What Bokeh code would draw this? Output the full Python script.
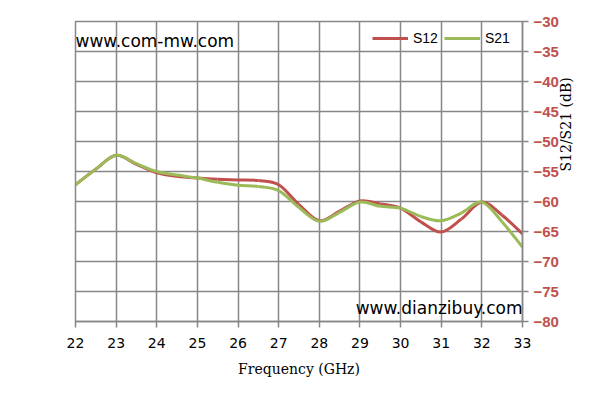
import math
from bokeh.plotting import figure
from bokeh.models import (LinearAxis, Range1d, FixedTicker, Label, Legend, LegendItem,
                          ColumnDataSource)
from bokeh.embed import file_html
from bokeh.resources import INLINE

freq = [22, 22.5, 23, 23.5, 24, 24.5, 25, 25.5, 26, 26.5, 27, 27.5, 28, 28.5, 29, 29.5,
        30, 30.5, 31, 31.5, 32, 32.5, 33]
s12 = [-57.2, -54.6, -52.3, -53.8, -55.2, -55.8, -56.1, -56.3, -56.4, -56.5, -57.2, -60.5,
       -63.2, -61.6, -59.9, -60.4, -61.1, -63.4, -65.1, -62.9, -60.1, -62.3, -65.4]
s21 = [-57.2, -54.6, -52.3, -53.7, -55.0, -55.6, -56.1, -56.8, -57.3, -57.5, -58.2, -61.0,
       -63.3, -61.8, -60.1, -60.8, -61.1, -62.5, -63.2, -61.9, -60.1, -63.4, -67.6]
x_ticks = list(range(22, 34))
y_ticks = list(range(-80, -29, 5))
x_label = "Frequency (GHz)"
y_label = "S12/S21 (dB)"
watermark_top = "www.com-mw.com"
watermark_bottom = "www.dianzibuy.com"

RED = "#C0504D"
GREEN = "#9BBB59"
GRID = "#878787"


def smooth_segments(xs, ys):
    """Cubic Bezier segments through the data points (Catmull-Rom style, like a
    spreadsheet 'smoothed line')."""
    n = len(xs)
    d = dict(x0=[], y0=[], x1=[], y1=[], cx0=[], cy0=[], cx1=[], cy1=[])
    for i in range(n - 1):
        p0 = (xs[max(i - 1, 0)], ys[max(i - 1, 0)])
        p1 = (xs[i], ys[i])
        p2 = (xs[i + 1], ys[i + 1])
        p3 = (xs[min(i + 2, n - 1)], ys[min(i + 2, n - 1)])
        d["x0"].append(p1[0]); d["y0"].append(p1[1])
        d["x1"].append(p2[0]); d["y1"].append(p2[1])
        d["cx0"].append(p1[0] + (p2[0] - p0[0]) / 6.0)
        d["cy0"].append(p1[1] + (p2[1] - p0[1]) / 6.0)
        d["cx1"].append(p2[0] - (p3[0] - p1[0]) / 6.0)
        d["cy1"].append(p2[1] - (p3[1] - p1[1]) / 6.0)
    return ColumnDataSource(d)


p = figure(width=579, height=386, output_backend="svg", toolbar_location=None,
           x_range=Range1d(22, 33), y_range=Range1d(-80, -30),
           frame_width=447, frame_height=300,
           min_border_left=75, min_border_top=21, min_border_right=20, min_border_bottom=40,
           y_axis_location=None)
p.xaxis.visible = False

p.outline_line_color = GRID
p.outline_line_width = 1.5
p.xgrid.ticker = FixedTicker(ticks=x_ticks)
p.ygrid.ticker = FixedTicker(ticks=y_ticks)
for g in (p.xgrid, p.ygrid):
    g.grid_line_color = GRID
    g.grid_line_width = 1.5
    g.grid_line_alpha = 1

xa = LinearAxis(ticker=FixedTicker(ticks=x_ticks), axis_label=x_label)
xa.axis_line_color = GRID
xa.axis_line_width = 1.5
xa.major_tick_line_color = GRID
xa.major_tick_line_width = 1.5
xa.major_tick_out = 6
xa.major_tick_in = 0
xa.minor_tick_line_color = None
xa.major_label_text_font = "DejaVu Sans"
xa.major_label_text_font_size = "14px"
xa.major_label_text_color = "#000000"
xa.major_label_standoff = 10
xa.axis_label_text_font = "DejaVu Serif"
xa.axis_label_text_font_style = "normal"
xa.axis_label_text_font_size = "14px"
xa.axis_label_text_color = "#000000"
xa.axis_label_standoff = 10
p.add_layout(xa, "below")

ya = LinearAxis(ticker=FixedTicker(ticks=y_ticks))
ya.axis_line_color = GRID
ya.axis_line_width = 1.5
ya.major_tick_line_color = GRID
ya.major_tick_line_width = 1.5
ya.major_tick_out = 6
ya.major_tick_in = 0
ya.minor_tick_line_color = None
ya.major_label_text_font = "Liberation Sans"
ya.major_label_text_font_style = "bold"
ya.major_label_text_font_size = "15px"
ya.major_label_text_color = RED
ya.major_label_standoff = 5
p.add_layout(ya, "right")

# a bare axis that carries only the right-hand title, reading bottom to top
yt = LinearAxis(ticker=FixedTicker(ticks=[]), axis_label=y_label, bounds=(-80, -46.6))
yt.axis_line_color = None
yt.major_tick_line_color = None
yt.minor_tick_line_color = None
yt.major_tick_out = 0
yt.major_label_text_font_size = "0px"
yt.axis_label_text_font = "DejaVu Serif"
yt.axis_label_text_font_style = "normal"
yt.axis_label_text_font_size = "14px"
yt.axis_label_text_color = "#000000"
yt.axis_label_standoff = 4
yt.axis_label_orientation = math.pi / 2
p.add_layout(yt, "right")

b1 = p.bezier(x0="x0", y0="y0", x1="x1", y1="y1", cx0="cx0", cy0="cy0", cx1="cx1", cy1="cy1",
              source=smooth_segments(freq, s12), line_color=RED, line_width=3)
b2 = p.bezier(x0="x0", y0="y0", x1="x1", y1="y1", cx0="cx0", cy0="cy0", cx1="cx1", cy1="cy1",
              source=smooth_segments(freq, s21), line_color=GREEN, line_width=3)

leg = Legend(items=[LegendItem(label="S12", renderers=[b1]),
                    LegendItem(label="S21", renderers=[b2])],
             orientation="horizontal", location=(292, 268))
leg.background_fill_alpha = 0
leg.border_line_alpha = 0
leg.glyph_width = 36
leg.label_standoff = 5
leg.spacing = 6
leg.padding = 5
leg.label_text_font = "Liberation Sans"
leg.label_text_font_size = "14px"
leg.label_text_color = "#000000"
p.add_layout(leg, "center")

p.add_layout(Label(x=22, y=-33.2, text=watermark_top, text_baseline="middle",
                   text_align="left", text_font="DejaVu Sans", text_font_size="17px",
                   text_color="#000000"))
p.add_layout(Label(x=33, y=-77.8, text=watermark_bottom, text_baseline="middle",
                   text_align="right", text_font="DejaVu Sans", text_font_size="17px",
                   text_color="#000000"))

open("out.html", "w").write(file_html(p, INLINE))
